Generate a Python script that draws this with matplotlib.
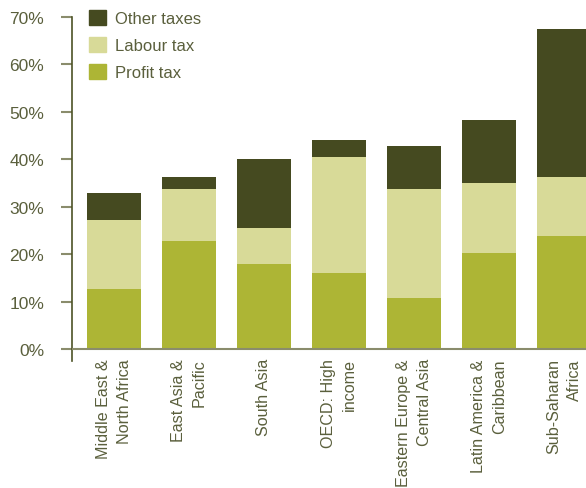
import matplotlib
matplotlib.use("Agg")
import matplotlib.pyplot as plt
from matplotlib.patches import Patch
from matplotlib.lines import Line2D

regions = ["Middle East &\nNorth Africa", "East Asia &\nPacific", "South Asia",
           "OECD: High\nincome", "Eastern Europe &\nCentral Asia",
           "Latin America &\nCaribbean", "Sub-Saharan\nAfrica"]
profit_tax = [12.6, 22.7, 17.9, 16.0, 10.7, 20.2, 23.8]
labour_tax = [14.7, 11.1, 7.7, 24.4, 23.1, 14.9, 12.5]
other_taxes = [5.5, 2.5, 14.5, 3.7, 9.1, 13.2, 31.1]
yticks = [0, 10, 20, 30, 40, 50, 60, 70]
ytick_labels = ["0%", "10%", "20%", "30%", "40%", "50%", "60%", "70%"]

c_profit = "#adb535"
c_labour = "#d8da98"
c_other = "#454a20"
txt = "#5a5f3c"
spine_c = "#4d5326"
tick_c = "#8a8c6c"

plt.rcParams["font.family"] = ["Liberation Sans", "DejaVu Sans"]

W, H = 586, 489
fig = plt.figure(figsize=(W / 100, H / 100), dpi=100)
left = 72 / W
bottom = (H - 362) / H
top = (H - 18) / H
ax = fig.add_axes([left, bottom, 1.0 - left, top - bottom])

x = list(range(len(regions)))
bw = 0.72
ax.bar(x, profit_tax, width=bw, color=c_profit, zorder=2)
b2 = [p for p in profit_tax]
ax.bar(x, labour_tax, width=bw, bottom=b2, color=c_labour, zorder=2)
b3 = [p + l for p, l in zip(profit_tax, labour_tax)]
ax.bar(x, other_taxes, width=bw, bottom=b3, color=c_other, zorder=2)

ax.set_xlim((72 - 114) / 75, (586 - 114) / 75)
ax.set_ylim(-2.53, 70)

for s in ["top", "right", "bottom"]:
    ax.spines[s].set_visible(False)
ax.spines["left"].set_color(spine_c)
ax.spines["left"].set_linewidth(1.2)

ax.set_yticks(yticks)
ax.set_yticklabels(ytick_labels)
ax.tick_params(axis="y", length=8, width=1.5, color=tick_c, pad=12,
               labelsize=12.5, labelcolor=txt)

ax.set_xticks(x)
ax.set_xticklabels(regions, rotation=90, ha="center", va="top",
                   multialignment="right", linespacing=1.45)
ax.tick_params(axis="x", length=0, pad=-2, labelsize=11.6, labelcolor=txt)

# zero baseline
ax.add_line(Line2D([0, 1], [0, 0], transform=ax.get_yaxis_transform(),
                   color=tick_c, lw=1.5, zorder=3))

handles = [Patch(color=c_other), Patch(color=c_labour), Patch(color=c_profit)]
labels = ["Other taxes", "Labour tax", "Profit tax"]
leg = fig.legend(handles, labels, loc="upper left",
                 bbox_to_anchor=(89 / W, 1 - 11 / H), frameon=False,
                 fontsize=12, handlelength=1.0, handleheight=1.0,
                 handletextpad=0.55, labelspacing=0.65, borderpad=0,
                 borderaxespad=0)
for t in leg.get_texts():
    t.set_color(txt)

fig.savefig("out.png", dpi=100)
